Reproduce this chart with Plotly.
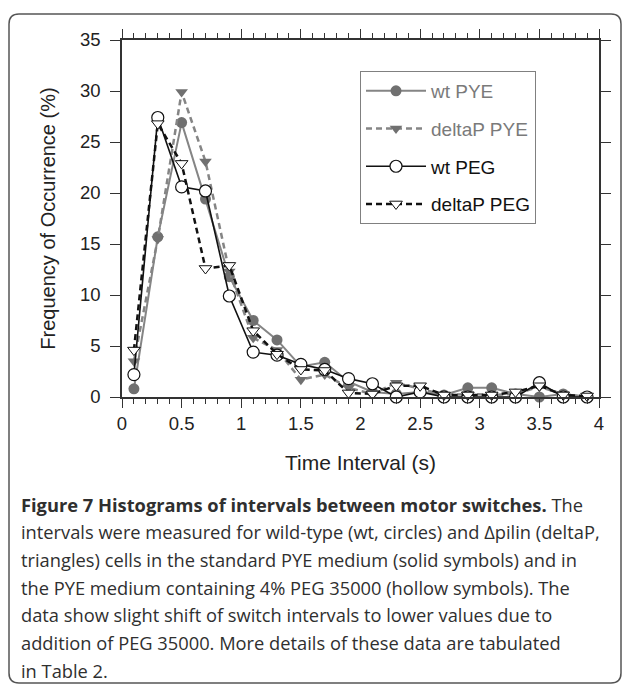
import plotly.graph_objects as go

# ---- data ----
time_s = [0.1, 0.3, 0.5, 0.7, 0.9, 1.1, 1.3, 1.5, 1.7, 1.9,
          2.1, 2.3, 2.5, 2.7, 2.9, 3.1, 3.3, 3.5, 3.7, 3.9]
wt_pye = [0.8, 15.7, 26.9, 19.4, 11.8, 7.5, 5.6, 3.0, 3.4, 1.5,
          0.5, 0.3, 0.5, 0.2, 0.9, 0.9, 0.3, 0.0, 0.3, 0.0]
deltap_pye = [3.5, 15.5, 29.9, 23.1, 12.3, 5.8, 4.6, 1.7, 2.2, 0.9,
              0.3, 1.4, 0.8, 0.2, 0.3, 0.2, 0.3, 1.0, 0.3, 0.0]
wt_peg = [2.2, 27.4, 20.6, 20.2, 9.9, 4.4, 4.1, 3.2, 2.7, 1.8,
          1.3, 0.0, 0.5, 0.0, 0.0, 0.0, 0.0, 1.4, 0.0, 0.0]
deltap_peg = [4.6, 26.8, 22.9, 12.6, 12.9, 6.5, 4.2, 2.7, 2.6, 0.4,
              0.3, 1.1, 1.1, 0.2, 0.2, 0.2, 0.5, 1.1, 0.2, 0.1]
x_ticks = [0, 0.5, 1, 1.5, 2, 2.5, 3, 3.5, 4]
y_ticks = [0, 5, 10, 15, 20, 25, 30, 35]

caption_lines = [
    "<b>Figure 7 Histograms of intervals between motor switches.</b> The",
    "intervals were measured for wild-type (wt, circles) and \u0394pilin (deltaP,",
    "triangles) cells in the standard PYE medium (solid symbols) and in",
    "the PYE medium containing 4% PEG 35000 (hollow symbols). The",
    "data show slight shift of switch intervals to lower values due to",
    "addition of PEG 35000. More details of these data are tabulated",
    "in Table 2.",
]

# ---- layout geometry (pixels) ----
W, H = 627, 684
L, R, T, B = 122, 599, 40, 397
PW, PH = R - L, B - T

def px(xp):
    return (xp - L) / PW

def py(yp):
    return (B - yp) / PH

GRAY = "#858585"
GRAY_M = "#707070"
BLACK = "#111111"

fig = go.Figure()
fig.add_trace(go.Scatter(
    x=time_s, y=wt_pye, mode="lines+markers",
    name="<span style='color:#7a7a7a'>wt PYE</span>", legendgroup="a",
    line=dict(color=GRAY, width=2),
    marker=dict(symbol="circle", size=11, color=GRAY_M),
    cliponaxis=False))
fig.add_trace(go.Scatter(
    x=time_s, y=deltap_pye, mode="lines+markers",
    name="<span style='color:#7a7a7a'>deltaP PYE</span>", legendgroup="b",
    line=dict(color=GRAY, width=2.5, dash="6px,4px"),
    marker=dict(symbol="triangle-down", size=11, color=GRAY_M),
    cliponaxis=False))
fig.add_trace(go.Scatter(
    x=time_s, y=wt_peg, mode="lines+markers",
    name="wt PEG", legendgroup="c",
    line=dict(color=BLACK, width=1.6),
    marker=dict(symbol="circle", size=12, color="white",
                line=dict(color=BLACK, width=1.2)),
    cliponaxis=False))
fig.add_trace(go.Scatter(
    x=time_s, y=deltap_peg, mode="lines+markers",
    name="deltaP PEG", legendgroup="d",
    line=dict(color=BLACK, width=2.5, dash="6px,4px"),
    marker=dict(symbol="triangle-down", size=11, color="white",
                line=dict(color=BLACK, width=1)),
    cliponaxis=False))

annotations = []
for i, line in enumerate(caption_lines):
    annotations.append(dict(
        text=line, xref="paper", yref="paper",
        x=px(20), y=py(504 + i * 27.7), xanchor="left", yanchor="middle",
        showarrow=False, align="left", borderpad=0,
        font=dict(family="Open Sans", size=18.3, color="#2f2f2f")))

# rounded border box
x0, y0, x1, y1, r = 9, 14, 621, 683, 10
path = (f"M {px(x0 + r)},{py(y0)} L {px(x1 - r)},{py(y0)} "
        f"Q {px(x1)},{py(y0)} {px(x1)},{py(y0 + r)} "
        f"L {px(x1)},{py(y1 - r)} Q {px(x1)},{py(y1)} {px(x1 - r)},{py(y1)} "
        f"L {px(x0 + r)},{py(y1)} Q {px(x0)},{py(y1)} {px(x0)},{py(y1 - r)} "
        f"L {px(x0)},{py(y0 + r)} Q {px(x0)},{py(y0)} {px(x0 + r)},{py(y0)} Z")

fig.update_layout(
    width=W, height=H,
    margin=dict(l=L, r=W - R, t=T, b=H - B, pad=0),
    paper_bgcolor="white", plot_bgcolor="white",
    font=dict(family="Liberation Sans, Arial", size=18, color="#222222"),
    showlegend=True,
    legend=dict(
        x=px(360), y=py(71), xanchor="left", yanchor="top",
        bgcolor="white", bordercolor="#808080", borderwidth=1,
        font=dict(family="Liberation Sans, Arial", size=19, color=BLACK),
        traceorder="grouped", tracegroupgap=10, itemwidth=60),
    annotations=annotations,
    shapes=[dict(type="path", path=path, xref="paper", yref="paper",
                 line=dict(color="#555555", width=1.5), layer="above")],
)

fig.update_xaxes(
    range=[0, 4], tickvals=x_ticks, ticktext=[f"{v:g}" for v in x_ticks],
    showgrid=False, zeroline=False,
    showline=True, linecolor="#333333", linewidth=1.5, mirror="ticks",
    ticks="outside", ticklen=9, tickwidth=1.2, tickcolor="#333333",
    minor=dict(dtick=0.1, ticks="outside", ticklen=5, tickwidth=1, tickcolor="#333333"),
    title=dict(text="Time Interval (s)", standoff=22, font=dict(size=21)),
    tickfont=dict(size=18.5),
)
fig.update_yaxes(
    range=[0, 35], tickvals=y_ticks,
    showgrid=False, zeroline=False,
    showline=True, linecolor="#333333", linewidth=1.5, mirror="ticks",
    ticks="outside", ticklen=10, tickwidth=1.2, tickcolor="#333333",
    ticklabelstandoff=6,
    title=dict(text="Frequency of Occurrence (%)", standoff=19, font=dict(size=20)),
    tickfont=dict(size=18.5),
)

fig.write_html(
    "out.html",
    config={"displayModeBar": False},
    post_script="document.body.style.margin='0';document.body.style.overflow='hidden';",
)
